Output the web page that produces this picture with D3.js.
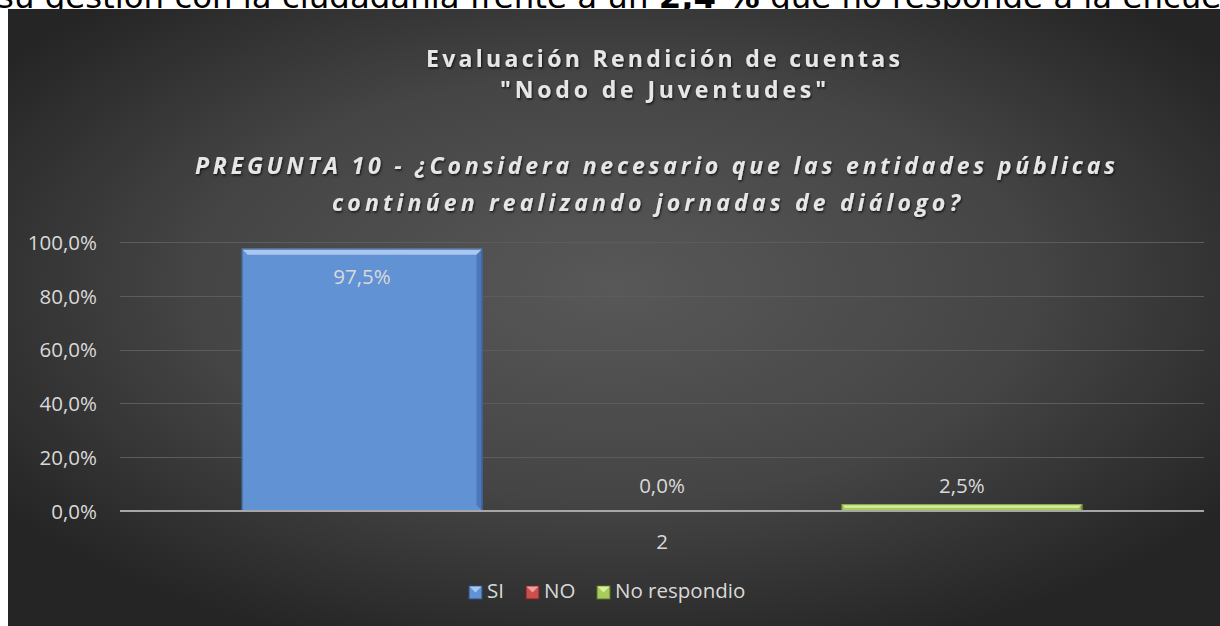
<!DOCTYPE html>
<html>
<head>
<meta charset="utf-8">
<script src="https://cdn.jsdelivr.net/npm/d3@7"></script>
<style>
  html, body { margin: 0; padding: 0; background: #ffffff; overflow: hidden; }
  svg { display: block; }
</style>
</head>
<body>
<script>
  // chart data
  const categories = ["2"];
  const series = ["SI", "NO", "No respondio"];
  const values = [0.975, 0.0, 0.025];
  const yTicks = [0, 0.2, 0.4, 0.6, 0.8, 1.0];
  const titleLines = ["Evaluación Rendición de cuentas", "\"Nodo de Juventudes\""];
  const subtitleLines = [
    "PREGUNTA 10 - ¿Considera necesario que las entidades públicas",
    "continúen realizando jornadas de diálogo?"
  ];
  const headerText = "su gestión con la ciudadanía frente a un ";
  const headerBold = "2,4 %";
  const headerTail = " que no responde a la encuesta";

  var width = 1220;
  var height = 626;

  var colors = {
    SI: { base: "#6192d4", light: "#a9c7f0", dark: "#3e68a6", edge: "#2f4f80" },
    NO: { base: "#c9504d", light: "#ee9f9d", dark: "#973432", edge: "#6e2422" },
    "No respondio": { base: "#a8cc5c", light: "#d8f09a", dark: "#7c9a3c", edge: "#5b7229" }
  };

  var locale = d3.formatLocale({ decimal: ",", thousands: ".", grouping: [3], currency: ["", "€"] });
  var pct = locale.format(".1%");

  var labelFont = "Open Sans, sans-serif";
  var labelSize = 20.5;

  var svg = d3
    .select("body")
    .append("svg")
    .attr("width", width)
    .attr("height", height);

  var defs = svg.append("defs");

  var bg = defs
    .append("radialGradient")
    .attr("id", "bg")
    .attr("cx", "0.5")
    .attr("cy", "0.45")
    .attr("r", "0.62");
  bg.append("stop").attr("offset", "0").attr("stop-color", "#585858");
  bg.append("stop").attr("offset", "0.55").attr("stop-color", "#454545");
  bg.append("stop").attr("offset", "1").attr("stop-color", "#252525");

  var shadow = defs.append("filter").attr("id", "shadow").attr("x", "-5%").attr("y", "-30%").attr("width", "110%").attr("height", "160%");
  shadow
    .append("feDropShadow")
    .attr("dx", 1)
    .attr("dy", 1.5)
    .attr("stdDeviation", 1.2)
    .attr("flood-color", "#000")
    .attr("flood-opacity", 0.7);

  // text from the page above the chart, mostly hidden behind it
  var header = svg
    .append("text")
    .attr("x", -3)
    .attr("y", 8)
    .attr("font-family", "DejaVu Sans, Verdana, sans-serif")
    .attr("font-size", 32.4)
    .attr("fill", "#000");
  header.append("tspan").text(headerText);
  header.append("tspan").attr("font-weight", "bold").text(headerBold);
  header.append("tspan").text(headerTail);

  // chart area
  svg
    .append("rect")
    .attr("x", 8)
    .attr("y", 9)
    .attr("width", width - 8)
    .attr("height", height - 9)
    .attr("fill", "url(#bg)");

  // titles
  var titleFont = "Open Sans, sans-serif";
  var titleWidths = [474, 326];
  svg
    .selectAll(".title")
    .data(titleLines)
    .enter()
    .append("text")
    .attr("class", "title")
    .attr("x", 663)
    .attr("y", function (d, i) {
      return 67 + i * 31;
    })
    .attr("text-anchor", "middle")
    .attr("font-family", titleFont)
    .attr("font-weight", "bold")
    .attr("font-size", 23)
    .attr("textLength", function (d, i) {
      return titleWidths[i];
    })
    .attr("lengthAdjust", "spacing")
    .attr("fill", "#e6e6e6")
    .attr("filter", "url(#shadow)")
    .text(function (d) {
      return d;
    });

  var subtitleWidths = [920, 628];
  svg
    .selectAll(".subtitle")
    .data(subtitleLines)
    .enter()
    .append("text")
    .attr("class", "subtitle")
    .attr("x", function (d, i) {
      return i === 0 ? 655 : 646;
    })
    .attr("y", function (d, i) {
      return 174 + i * 37;
    })
    .attr("text-anchor", "middle")
    .attr("font-family", titleFont)
    .attr("font-weight", "bold")
    .attr("font-style", "italic")
    .attr("font-size", 23)
    .attr("textLength", function (d, i) {
      return subtitleWidths[i];
    })
    .attr("lengthAdjust", "spacing")
    .attr("fill", "#e6e6e6")
    .attr("filter", "url(#shadow)")
    .text(function (d) {
      return d;
    });

  // scales
  var plot = { left: 120, right: 1204, top: 242, bottom: 511 };

  var y = d3.scaleLinear().domain([0, 1]).range([plot.bottom, plot.top]);

  var x0 = d3
    .scaleBand()
    .domain(categories)
    .range([plot.left, plot.right])
    .padding(0.093);

  var x1 = d3
    .scaleBand()
    .domain(series)
    .range([0, x0.bandwidth()])
    .paddingInner(0.197)
    .paddingOuter(0.098);

  // gridlines
  svg
    .selectAll(".grid")
    .data(yTicks.filter(function (d) { return d > 0; }))
    .enter()
    .append("line")
    .attr("class", "grid")
    .attr("x1", plot.left)
    .attr("x2", plot.right)
    .attr("y1", function (d) { return Math.round(y(d)) + 0.5; })
    .attr("y2", function (d) { return Math.round(y(d)) + 0.5; })
    .attr("stroke", "#5c5c5c")
    .attr("stroke-width", 1.2);

  // y axis labels
  var yAxis = d3
    .axisLeft(y)
    .tickValues(yTicks)
    .tickSize(0)
    .tickPadding(23)
    .tickFormat(pct);

  var yG = svg
    .append("g")
    .attr("transform", "translate(" + plot.left + ",0)")
    .call(yAxis);
  yG.select(".domain").remove();
  yG
    .selectAll("text")
    .attr("font-family", labelFont)
    .attr("font-size", labelSize)
    .attr("fill", "#d9d9d9")
    .attr("dy", "0.36em");

  // bars with a bevelled look
  var bars = svg
    .selectAll(".bar")
    .data(series.map(function (s, i) { return { key: s, value: values[i], cat: categories[0] }; }))
    .enter()
    .append("g")
    .attr("class", "bar");

  bars.each(function (d) {
    var g = d3.select(this);
    var bx = x0(d.cat) + x1(d.key);
    var bw = x1.bandwidth();
    var by = y(d.value);
    var bh = y(0) - by;
    var c = colors[d.key];
    if (bh <= 0) return;
    var b = Math.min(6, bh / 2);

    g.append("rect")
      .attr("x", bx)
      .attr("y", by)
      .attr("width", bw)
      .attr("height", bh)
      .attr("fill", c.base);

    // top bevel
    g.append("polygon")
      .attr("points", [
        [bx, by], [bx + bw, by], [bx + bw - b, by + b], [bx + b, by + b]
      ].join(" "))
      .attr("fill", c.light);
    // right bevel
    g.append("polygon")
      .attr("points", [
        [bx + bw, by], [bx + bw - b, by + b], [bx + bw - b, by + bh - b], [bx + bw, by + bh]
      ].join(" "))
      .attr("fill", c.dark)
      .attr("opacity", 0.6);

    g.append("rect")
      .attr("x", bx + 0.5)
      .attr("y", by + 0.5)
      .attr("width", bw - 1)
      .attr("height", bh - 1)
      .attr("fill", "none")
      .attr("stroke", c.edge)
      .attr("stroke-width", 1)
      .attr("stroke-opacity", 0.7);
  });

  // category axis line
  svg
    .append("line")
    .attr("x1", plot.left)
    .attr("x2", plot.right)
    .attr("y1", plot.bottom)
    .attr("y2", plot.bottom)
    .attr("stroke", "#a6a6a6")
    .attr("stroke-width", 2);

  var xAxis = d3.axisBottom(x0).tickSize(0).tickPadding(23);
  var xG = svg
    .append("g")
    .attr("transform", "translate(0," + plot.bottom + ")")
    .call(xAxis);
  xG.select(".domain").remove();
  xG
    .selectAll("text")
    .attr("font-family", labelFont)
    .attr("font-size", labelSize)
    .attr("fill", "#d9d9d9");

  // data labels: inside end for the tall bar, just above the axis for the small ones
  svg
    .selectAll(".label")
    .data(values)
    .enter()
    .append("text")
    .attr("class", "label")
    .attr("x", function (d, i) {
      return x0(categories[0]) + x1(series[i]) + x1.bandwidth() / 2;
    })
    .attr("y", function (d) {
      return d > 0.5 ? y(d) + 35 : Math.min(y(d) - 11, y(0) - 18);
    })
    .attr("text-anchor", "middle")
    .attr("font-family", labelFont)
    .attr("font-size", labelSize)
    .attr("fill", "#d9d9d9")
    .text(function (d) {
      return pct(d);
    });

  // legend
  var legendX = [469, 526, 597];
  var legend = svg
    .selectAll(".legend")
    .data(series)
    .enter()
    .append("g")
    .attr("class", "legend")
    .attr("transform", function (d, i) {
      return "translate(" + legendX[i] + ",586)";
    });

  legend
    .append("rect")
    .attr("width", 13)
    .attr("height", 13)
    .attr("fill", function (d) { return colors[d].base; })
    .attr("stroke", function (d) { return colors[d].edge; })
    .attr("stroke-width", 1);

  legend
    .append("polygon")
    .attr("points", "0.5,0.5 12.5,0.5 6.5,6.5")
    .attr("fill", function (d) { return colors[d].light; });

  legend
    .append("text")
    .attr("x", 18)
    .attr("y", 12)
    .attr("font-family", labelFont)
    .attr("font-size", labelSize)
    .attr("fill", "#d9d9d9")
    .text(function (d) { return d; });
</script>
</body>
</html>
